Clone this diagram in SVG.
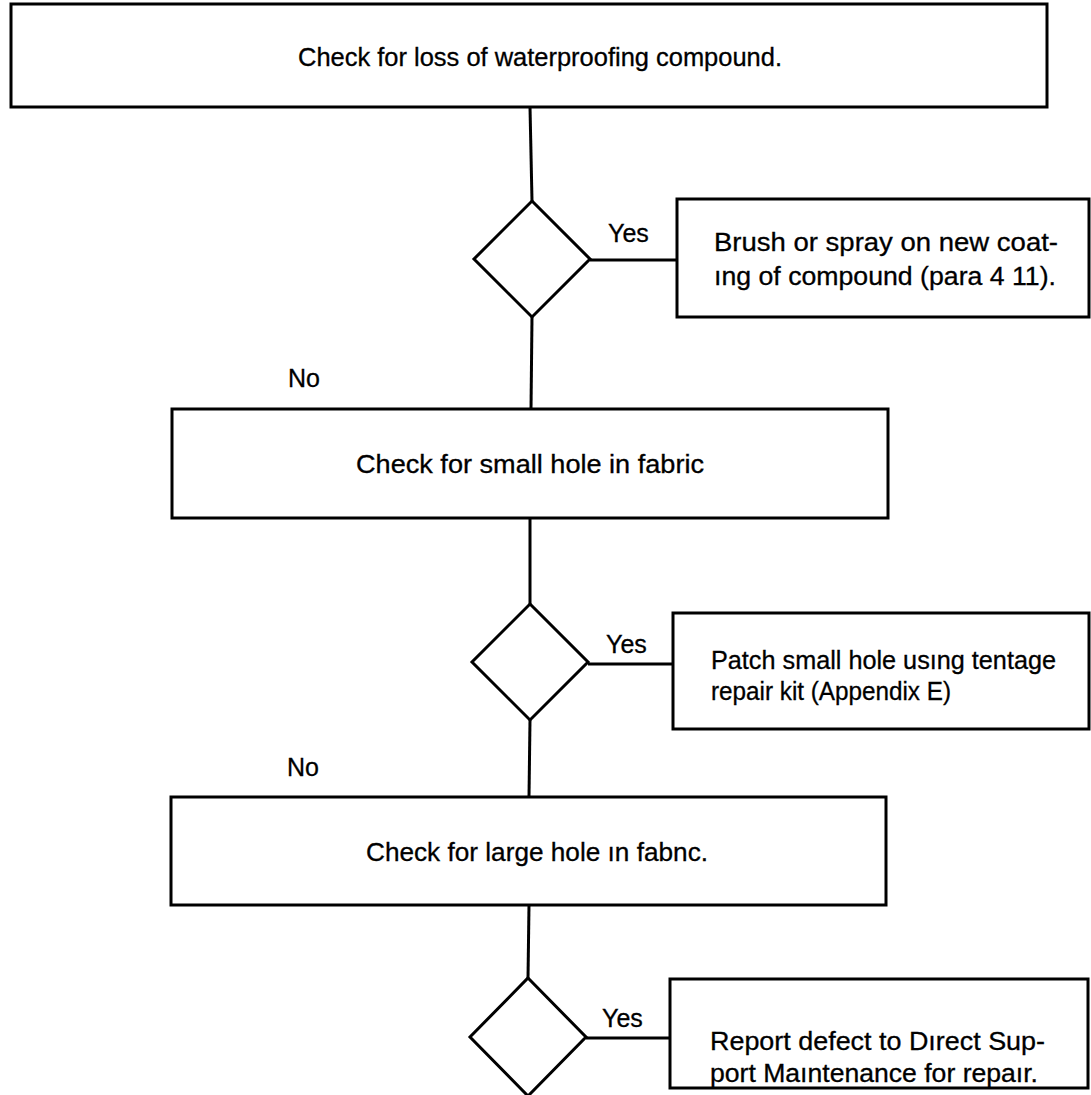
<svg xmlns="http://www.w3.org/2000/svg" width="1091" height="1095" viewBox="0 0 1091 1095">
<style>
.box{fill:#fff;stroke:#000;stroke-width:3}
.dia{fill:#fff;stroke:#000;stroke-width:3;stroke-linejoin:miter}
.con{stroke:#000;stroke-width:3;fill:none}
text{font-family:"Liberation Sans",Arial,sans-serif;font-size:25px;fill:#000;stroke:#000;stroke-width:0.3}
.c{text-anchor:middle}
</style>
<rect width="1091" height="1095" fill="#fff"/>
<g id="connectors">
<line class="con" x1="530" y1="107" x2="532" y2="201"/>
<line class="con" x1="590" y1="260" x2="677" y2="260"/>
<line class="con" x1="532" y1="317" x2="531" y2="409"/>
<line class="con" x1="530" y1="518" x2="530" y2="604"/>
<line class="con" x1="588" y1="664" x2="673" y2="664"/>
<line class="con" x1="530" y1="720" x2="529" y2="797"/>
<line class="con" x1="529" y1="905" x2="528" y2="978"/>
<line class="con" x1="586" y1="1038" x2="670" y2="1038"/>
<text x="608" y="242">Yes</text>
<text x="288" y="387">No</text>
<text x="606" y="653">Yes</text>
<text x="287" y="776">No</text>
<text x="602" y="1027">Yes</text>
</g>
<g id="n1">
<rect class="box" x="11" y="4" width="1036" height="103"/>
<text class="c" x="540" y="66" textLength="484" lengthAdjust="spacingAndGlyphs">Check for loss of waterproofing compound.</text>
</g>
<g id="d1">
<polygon class="dia" points="532,201 590,259 532,317 474,259"/>
</g>
<g id="n2">
<rect class="box" x="677" y="199" width="412" height="118"/>
<text x="714" y="251" textLength="344" lengthAdjust="spacingAndGlyphs">Brush or spray on new coat-</text>
<text x="714" y="285" textLength="342" lengthAdjust="spacingAndGlyphs">ıng of compound (para 4 11).</text>
</g>
<g id="n3">
<rect class="box" x="172" y="409" width="716" height="109"/>
<text class="c" x="530" y="473" textLength="348" lengthAdjust="spacingAndGlyphs">Check for small hole in fabric</text>
</g>
<g id="d2">
<polygon class="dia" points="530,604 588,662 530,720 472,662"/>
</g>
<g id="n4">
<rect class="box" x="673" y="613" width="416" height="116"/>
<text x="711" y="669" textLength="345" lengthAdjust="spacingAndGlyphs">Patch small hole usıng tentage</text>
<text x="711" y="700" textLength="240" lengthAdjust="spacingAndGlyphs">repair kit (Appendix E)</text>
</g>
<g id="n5">
<rect class="box" x="171" y="797" width="715" height="108"/>
<text class="c" x="537" y="861" textLength="342" lengthAdjust="spacingAndGlyphs">Check for large hole ın fabnc.</text>
</g>
<g id="d3">
<polygon class="dia" points="528,978 586,1037 528,1096 470,1037"/>
</g>
<g id="n6">
<rect class="box" x="670" y="979" width="418" height="109"/>
<text x="710" y="1050" textLength="335" lengthAdjust="spacingAndGlyphs">Report defect to Dırect Sup-</text>
<text x="710" y="1082" textLength="328" lengthAdjust="spacingAndGlyphs">port Maıntenance for repaır.</text>
</g>
</svg>
